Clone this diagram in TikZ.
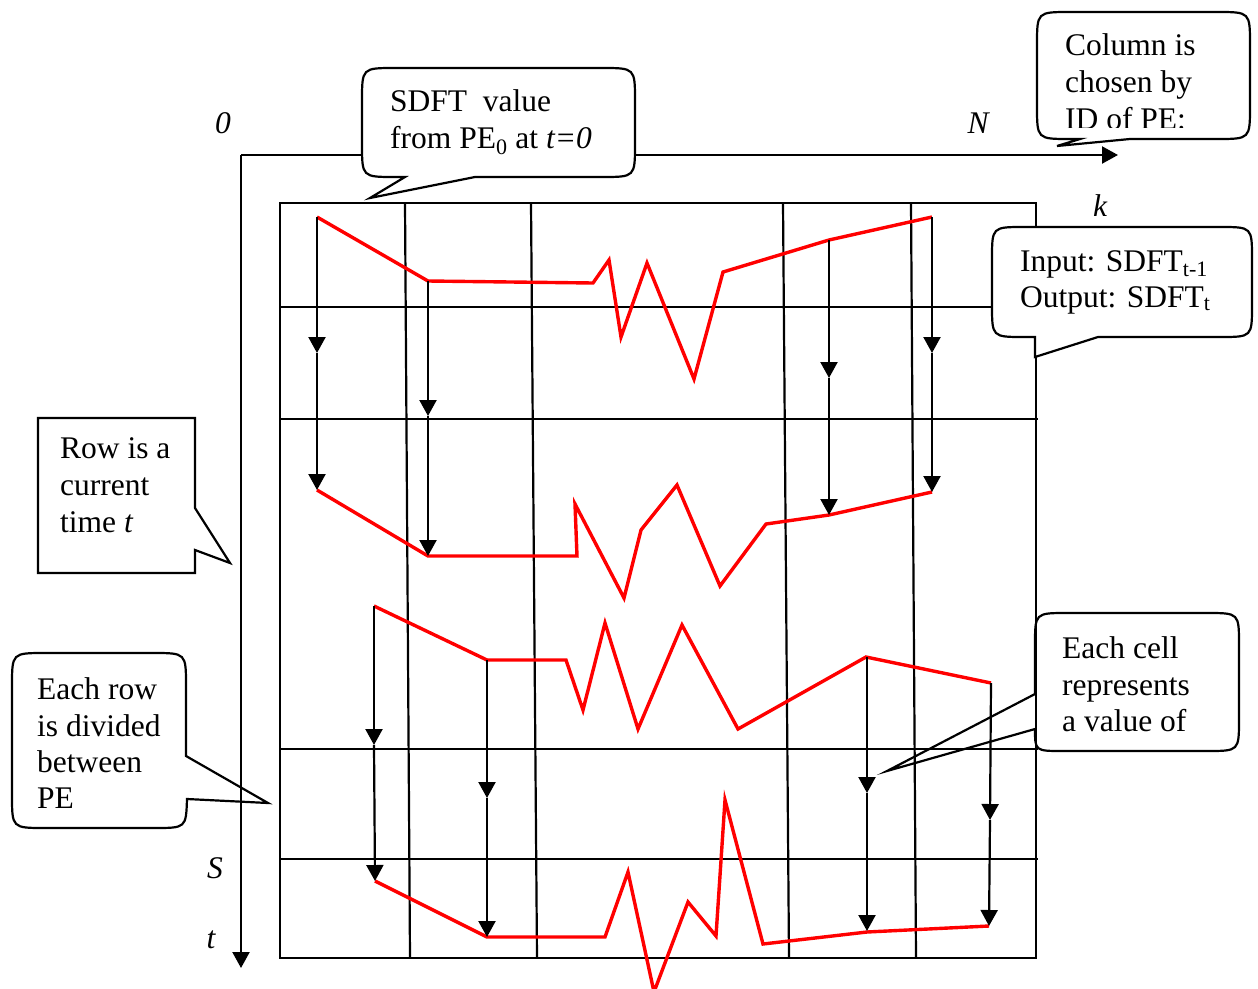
\documentclass[tikz,border=0pt]{standalone}
\usepackage{fontspec}
\setmainfont{Liberation Serif}
\usetikzlibrary{arrows.meta}
\begin{document}
\begin{tikzpicture}[x=1pt,y=-1pt,
  ln/.style={line width=2.2pt},
  redln/.style={line width=3.4pt, draw=red, line join=miter},
  flow/.style={line width=2.2pt, -{Triangle[length=16pt,width=17pt]}},
  callout/.style={line width=2.2pt, draw=black, fill=white, line join=miter},
  ocallout/.style={line width=2.2pt, draw=black, line join=miter},
  txt/.style={anchor=base west, inner sep=0pt, font=\fontsize{31.5}{37}\selectfont},
  lbl/.style={inner sep=0pt, font=\fontsize{31.5}{37}\selectfont\itshape}]
\useasboundingbox (0,0) rectangle (1258,988);

% axes
\coordinate (O) at (241,155);
\coordinate (tend) at (241,968);
\coordinate (nend) at (1118,155);
\draw[flow] (O) -- (tend);
\draw[flow] (O) -- (nend);

% grid
\draw[ln] (280,203) rectangle (1036,958);
\foreach \y in {307,419,749,859} \draw[ln] (281,\y) -- (1038,\y);
\draw[ln] (405,203) -- (410,958);
\draw[ln] (531,203) -- (537,958);
\draw[ln] (783,203) -- (789,958);
\draw[ln] (911,203) -- (916,958);

% red curves
\draw[redln] (317,217) -- (428,281) -- (593,283) -- (609,260) -- (621,337) -- (647,263) -- (694,379) -- (723,272) -- (829,240) -- (932,217);
\draw[redln] (317,490) -- (428,556) -- (577,556) -- (575,504) -- (624,598) -- (641,530) -- (677,485) -- (720,586) -- (766,524) -- (829,515) -- (932,492);
\draw[redln] (374,606) -- (487,660) -- (566,660) -- (583,710) -- (605,623) -- (638,729) -- (682,625) -- (738,729) -- (866,657) -- (991,683);
\draw[redln] (375,881) -- (487,937) -- (605,937) -- (628,872) -- (654,992) -- (688,902) -- (716,936) -- (725,800) -- (763,944) -- (867,932) -- (989,926);

% flow arrows, row 1 -> row 2
\coordinate (a1) at (317,217); \coordinate (a1m) at (317,353); \coordinate (a1e) at (317,490);
\coordinate (a2) at (428,281); \coordinate (a2m) at (428,416); \coordinate (a2e) at (428,556);
\coordinate (a3) at (829,240); \coordinate (a3m) at (829,378); \coordinate (a3e) at (829,515);
\coordinate (a4) at (932,217); \coordinate (a4m) at (932,353); \coordinate (a4e) at (932,492);
\foreach \p in {a1,a2,a3,a4} {\draw[flow] (\p) -- (\p m); \draw[flow] (\p m) -- (\p e);}
% row 3 -> row 4
\coordinate (b1) at (374,606); \coordinate (b1m) at (374,745); \coordinate (b1e) at (375,881);
\coordinate (b2) at (487,660); \coordinate (b2m) at (487,798); \coordinate (b2e) at (487,937);
\coordinate (b3) at (867,657); \coordinate (b3m) at (867,793); \coordinate (b3e) at (867,931);
\coordinate (b4) at (991,683); \coordinate (b4m) at (990,820); \coordinate (b4e) at (989,926);
\foreach \p in {b1,b2,b3,b4} {\draw[flow] (\p) -- (\p m); \draw[flow] (\p m) -- (\p e);}

% axis labels
\node[lbl] (l0) at (223,123) {0};
\node[lbl] (lN) at (978,123) {N};
\node[lbl] (lk) at (1100,206) {k};
\node[lbl] (lS) at (215,868) {S};
\node[lbl] (lt) at (211,940) {t};

% callout: SDFT value
\draw[callout] (475,177) -- (370,198) -- (405,177) -- (395,177) .. controls (362,177) .. (362,144)
  -- (362,101) .. controls (362,68) .. (395,68) -- (602,68) .. controls (635,68) .. (635,101)
  -- (635,144) .. controls (635,177) .. (602,177) -- cycle;
\node[txt] (c1a) at (390,111) {SDFT\ \ value};
\node[txt] (c1b) at (390,148) {from PE\textsubscript{0} at \textit{t=0}};

% callout: Column is chosen
\draw[callout] (1130,139) -- (1057,146) -- (1080,139) -- (1070,139) .. controls (1037,139) .. (1037,106)
  -- (1037,45) .. controls (1037,12) .. (1070,12) -- (1217,12) .. controls (1250,12) .. (1250,45)
  -- (1250,106) .. controls (1250,139) .. (1217,139) -- cycle;
\begin{scope}
\clip (1037,12) rectangle (1250,127);
\node[txt] (c2a) at (1065,55) {Column is};
\node[txt] (c2b) at (1065,92) {chosen by};
\node[txt] (c2c) at (1065,129) {ID of PE:};
\end{scope}

% callout: Input/Output
\draw[callout] (1098,337) -- (1035,357) -- (1035,337) -- (1024,337) .. controls (992,337) .. (992,305)
  -- (992,259) .. controls (992,227) .. (1024,227) -- (1220,227) .. controls (1252,227) .. (1252,259)
  -- (1252,305) .. controls (1252,337) .. (1220,337) -- cycle;
\node[txt] (c3a) at (1020,271) {Input: SDFT\textsubscript{t-1}};
\node[txt] (c3b) at (1020,307) {Output: SDFT\textsubscript{t}};

% callout: Row is a current time t
\draw[ocallout] (195,508) -- (230,563) -- (195,550) -- (195,573) -- (38,573) -- (38,418) -- (195,418) -- cycle;
\node[txt] (c4a) at (60,458) {Row is a};
\node[txt] (c4b) at (60,495) {current};
\node[txt] (c4c) at (60,532) {time \textit{t}};

% callout: Each row is divided between PE
\draw[ocallout] (186,756) -- (268,803) -- (187,799) .. controls (186,828) .. (154,828)
  -- (45,828) .. controls (12,828) .. (12,795) -- (12,686) .. controls (12,653) .. (45,653)
  -- (153,653) .. controls (186,653) .. (186,686) -- cycle;
\node[txt] (c5a) at (37,699) {Each row};
\node[txt] (c5b) at (37,736) {is divided};
\node[txt] (c5c) at (37,772) {between};
\node[txt] (c5d) at (37,808) {PE};

% callout: Each cell represents a value of
\draw[ocallout] (1035,729) -- (887,771) -- (1035,694) -- (1035,645) .. controls (1035,613) .. (1067,613)
  -- (1207,613) .. controls (1239,613) .. (1239,645) -- (1239,719) .. controls (1239,751) .. (1207,751)
  -- (1063,751) .. controls (1035,751) .. (1035,729) -- cycle;
\node[txt] (c6a) at (1062,658) {Each cell};
\node[txt] (c6b) at (1062,695) {represents};
\node[txt] (c6c) at (1062,731) {a value of};
\end{tikzpicture}
\end{document}
